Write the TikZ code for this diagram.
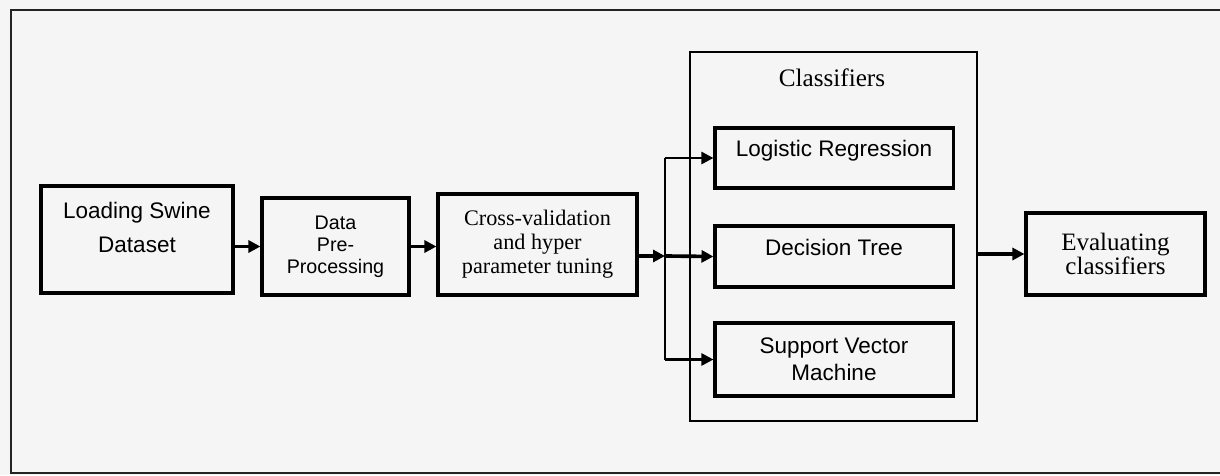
\documentclass[tikz,border=0pt]{standalone}
\usepackage{fontspec}
\setmainfont{Liberation Sans}
\newfontfamily\tnr{Liberation Serif}
\usetikzlibrary{arrows.meta}
\definecolor{paper}{RGB}{245,245,245}
\definecolor{edge}{RGB}{35,35,35}

\begin{document}
\begin{tikzpicture}[
    x=0.025cm, y=-0.025cm,
    font=\fontsize{16}{19}\selectfont,
    blk/.style={draw, line width=2.2pt, align=center, inner sep=0pt},
    serif/.style={font=\tnr\fontsize{#1}{17}\selectfont},
    raised/.style={text depth=0.46cm},
    arr/.style={-{Triangle[length=8.5pt,width=8.5pt]}, line width=2.6pt},
    thin/.style={-{Triangle[length=8.5pt,width=8.5pt]}, line width=1.9pt}
  ]
    % page and outer frame
    \fill[paper] (0,0) rectangle (1220,475);
    \useasboundingbox (0,0) rectangle (1220,475);
    \draw[edge, line width=2pt] (1220,10) -- (11,10) -- (11,473) -- (1220,473);

    % pipeline
    \node[blk, minimum width=4.8cm, minimum height=2.675cm, text depth=0.6cm,
          font=\fontsize{16}{24.2}\selectfont] (load) at (137,239.5) {Loading Swine\\Dataset};
    \node[blk, minimum width=3.675cm, minimum height=2.425cm,
          font=\fontsize{14}{15.8}\selectfont] (prep) at (335.5,246.5) {Data\\Pre-\\Processing};
    \node[blk, serif=15.8, minimum width=4.975cm, minimum height=2.525cm] (cv) at (537.5,244.5)
          {Cross-validation\\and hyper\\parameter tuning};

    % classifiers
    \node[draw, line width=2pt, minimum width=7.175cm, minimum height=9.225cm] (clsbox) at (833.5,236.5) {};
    \node[serif=17.9, anchor=base] (clstitle) at (832,86) {Classifiers};
    \node[blk, raised, minimum width=5.95cm, minimum height=1.5cm] (lr) at (834,158) {Logistic Regression};
    \node[blk, raised, minimum width=5.95cm, minimum height=1.525cm] (dt) at (834,256.5) {Decision Tree};
    \node[blk, minimum width=5.95cm, minimum height=1.825cm,
          font=\fontsize{16}{19.2}\selectfont] (svm) at (834,359.5) {Support Vector\\Machine};

    \node[blk, minimum width=4.475cm, minimum height=2.05cm,
          font=\tnr\fontsize{17.8}{15.6}\selectfont] (ev) at (1115.5,254) {Evaluating\\classifiers};

    \coordinate (split) at (665,256);

    \draw[arr] (load.east |- prep.west) -- (prep.west);
    \draw[arr] (prep.east) -- (prep.east -| cv.west);
    \draw[arr] (cv.east |- split) -- (split);
    \draw[line width=1.9pt] (split |- lr.west) -- (split |- svm.west);
    \draw[thin] (split |- lr.west) -- (lr.west);
    \draw[arr] (split) -- (dt.west);
    \draw[thin] (split |- svm.west) -- (svm.west);
    \draw[arr] (clsbox.east |- ev.west) -- (ev.west);
\end{tikzpicture}
\end{document}
